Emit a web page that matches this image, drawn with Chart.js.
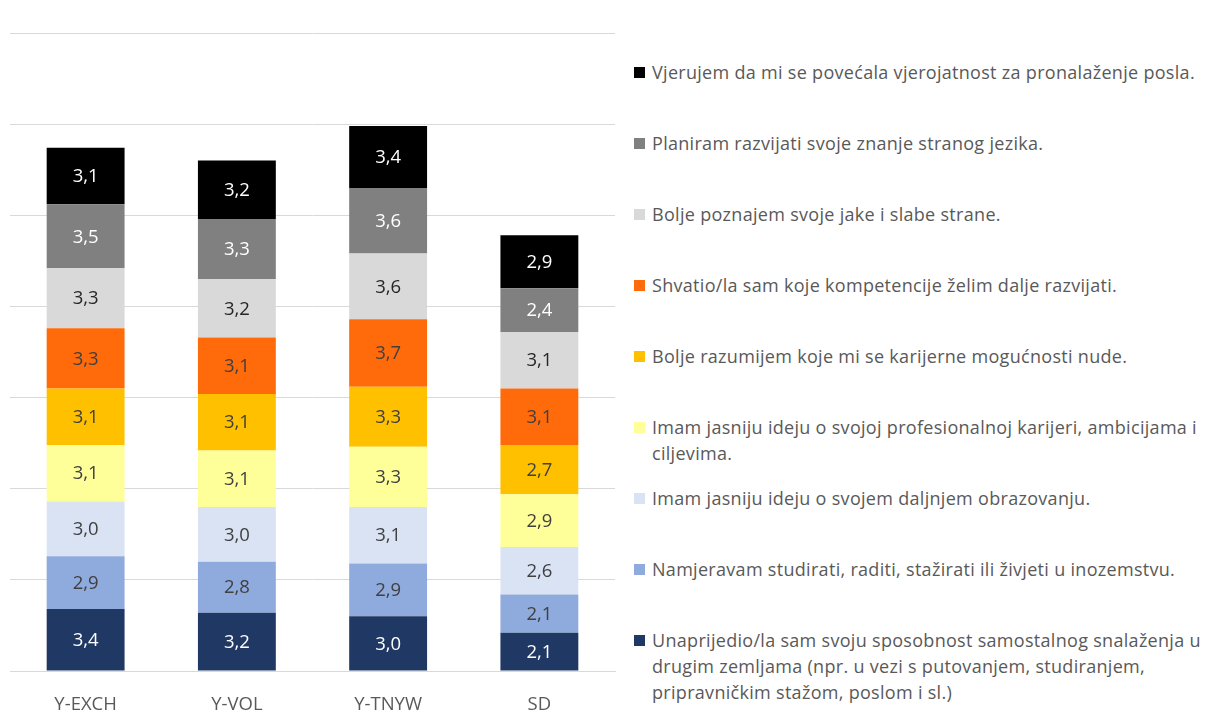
<!DOCTYPE html>
<html>
<head>
<meta charset="utf-8">
<script src="https://cdn.jsdelivr.net/npm/chart.js@4/dist/chart.umd.min.js"></script>
<style>
  html, body { margin: 0; padding: 0; background: #fff; }
  body { width: 1209px; height: 715px; position: relative; overflow: hidden; font-family: "Open Sans", sans-serif; }
  #c { position: absolute; left: 0; top: 0; }
  #legend { position: absolute; left: 634px; top: 59px; width: 575px; }
  .item { position: relative; height: 71px; }
  .sw { position: absolute; left: 0; top: 8px; width: 11px; height: 11px; }
  .txt { position: absolute; left: 18px; top: 0; width: 556px; font-size: 18px; letter-spacing: 0.3px; line-height: 26px; color: #595959; }
</style>
</head>
<body>
<canvas id="c" width="620" height="715" style="width:620px;height:715px"></canvas>
<div id="legend"></div>
<script>
const categories = ["Y-EXCH", "Y-VOL", "Y-TNYW", "SD"];

const seriesNames = [
  "Unaprijedio/la sam svoju sposobnost samostalnog snalaženja u drugim zemljama (npr. u vezi s putovanjem, studiranjem, pripravničkim stažom, poslom i sl.)",
  "Namjeravam studirati, raditi, stažirati ili živjeti u inozemstvu.",
  "Imam jasniju ideju o svojem daljnjem obrazovanju.",
  "Imam jasniju ideju o svojoj profesionalnoj karijeri, ambicijama i ciljevima.",
  "Bolje razumijem koje mi se karijerne mogućnosti nude.",
  "Shvatio/la sam koje kompetencije želim dalje razvijati.",
  "Bolje poznajem svoje jake i slabe strane.",
  "Planiram razvijati svoje znanje stranog jezika.",
  "Vjerujem da mi se povećala vjerojatnost za pronalaženje posla."
];

const snalazenje   = [3.4, 3.2, 3.0, 2.1];
const inozemstvo   = [2.9, 2.8, 2.9, 2.1];
const obrazovanje  = [3.0, 3.0, 3.1, 2.6];
const karijera     = [3.1, 3.1, 3.3, 2.9];
const mogucnosti   = [3.1, 3.1, 3.3, 2.7];
const kompetencije = [3.3, 3.1, 3.7, 3.1];
const jakeSlabe    = [3.3, 3.2, 3.6, 3.1];
const jezik        = [3.5, 3.3, 3.6, 2.4];
const posao        = [3.1, 3.2, 3.4, 2.9];

const seriesValues = [snalazenje, inozemstvo, obrazovanje, karijera, mogucnosti, kompetencije, jakeSlabe, jezik, posao];

const colors = ["#203864", "#8FAADC", "#DAE3F3", "#FFFF99", "#FFC000", "#FF6A0A", "#D9D9D9", "#808080", "#000000"];
const labelColors = ["#FFFFFF", "#404040", "#404040", "#404040", "#404040", "#404040", "#262626", "#FFFFFF", "#FFFFFF"];

const yMax = 35, yStep = 5;
const FONT = "'Open Sans', sans-serif";

const datasets = seriesValues.map((vals, i) => ({
  label: seriesNames[i],
  data: vals,
  backgroundColor: colors[i],
  borderWidth: 0,
  categoryPercentage: 1.0,
  barPercentage: 0.515
}));

const valueLabels = {
  id: "valueLabels",
  afterDatasetsDraw(chart) {
    const ctx = chart.ctx;
    ctx.save();
    ctx.font = "18.5px " + FONT;
    ctx.textAlign = "center";
    ctx.textBaseline = "middle";
    chart.data.datasets.forEach((ds, di) => {
      const meta = chart.getDatasetMeta(di);
      meta.data.forEach((bar, j) => {
        const v = ds.data[j];
        const y = (bar.y + bar.base) / 2;
        ctx.fillStyle = labelColors[di];
        ctx.fillText(v.toFixed(1).replace(".", ","), bar.x, y + 1);
      });
    });
    ctx.restore();
  }
};

new Chart(document.getElementById("c"), {
  type: "bar",
  data: { labels: categories, datasets },
  options: {
    responsive: false,
    animation: false,
    layout: { padding: { left: 10, right: 5, top: 33, bottom: 0 } },
    plugins: { legend: { display: false }, tooltip: { enabled: false } },
    scales: {
      x: {
        stacked: true,
        grid: { display: false, drawTicks: false },
        border: { color: "#D9D9D9", width: 1 },
        ticks: { color: "#595959", font: { size: 18.5, family: FONT }, padding: 23, maxRotation: 0 },
        afterFit(scale) { scale.height = 44; }
      },
      y: {
        stacked: true,
        min: 0, max: yMax,
        ticks: { display: false, stepSize: yStep },
        grid: { color: "#D9D9D9", lineWidth: 1, drawTicks: false },
        border: { display: false }
      }
    }
  },
  plugins: [valueLabels]
});

const legend = document.getElementById("legend");
for (let i = seriesNames.length - 1; i >= 0; i--) {
  const it = document.createElement("div");
  it.className = "item";
  const sw = document.createElement("div");
  sw.className = "sw";
  sw.style.background = colors[i];
  const tx = document.createElement("div");
  tx.className = "txt";
  tx.textContent = seriesNames[i];
  it.appendChild(sw); it.appendChild(tx);
  legend.appendChild(it);
}
</script>
</body>
</html>
